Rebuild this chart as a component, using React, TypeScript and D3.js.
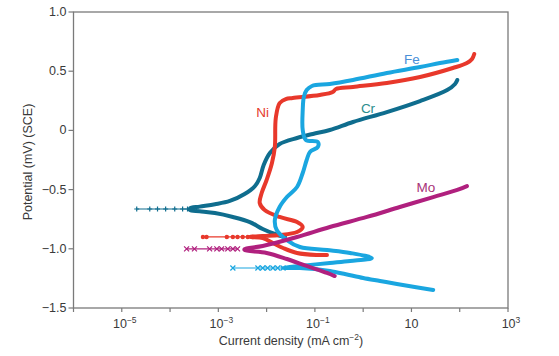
import React from "react";
import * as d3 from "d3";

type P = [number, number];

// [current density (mA cm^-2), potential (V)]
const feThick: P[] = [
  [28.2, -1.348], [11.7, -1.323], [5.0, -1.297], [2.24, -1.272], [1.0, -1.247],
  [0.417, -1.213], [0.204, -1.188], [0.1, -1.171], [0.049, -1.162], [0.0219, -1.162],
  [0.049, -1.145], [0.204, -1.12], [0.537, -1.103], [1.51, -1.078], [0.537, -1.035],
  [0.178, -1.01], [0.049, -0.985], [0.0263, -0.926], [0.0162, -0.841], [0.0148, -0.757],
  [0.0186, -0.647], [0.0263, -0.563], [0.0427, -0.478], [0.056, -0.36], [0.0676, -0.25],
  [0.079, -0.182], [0.115, -0.14], [0.115, -0.098], [0.065, -0.081], [0.056, 0.003],
  [0.056, 0.172], [0.059, 0.282], [0.0676, 0.341], [0.087, 0.375], [0.204, 0.392],
  [0.617, 0.426], [3.09, 0.485], [15.1, 0.535], [39, 0.569], [89, 0.595],
];
const feThin: P[] = [
  [2.0e-3, -1.162], [6.6e-3, -1.162], [8.3e-3, -1.162], [1.05e-2, -1.162],
  [1.35e-2, -1.162], [1.7e-2, -1.162], [2.19e-2, -1.162],
];

const niThick: P[] = [
  [0.178, -1.052], [0.11, -1.052], [0.0427, -1.035], [0.0219, -0.993], [0.0135, -0.951],
  [8.3e-3, -0.909], [4.5e-3, -0.9], [8.3e-3, -0.892], [0.0186, -0.884], [0.0427, -0.858],
  [0.056, -0.816], [0.0427, -0.774], [0.0186, -0.731], [9.1e-3, -0.672], [7.2e-3, -0.613],
  [7.9e-3, -0.529], [0.01, -0.419], [0.0129, -0.275], [0.0148, -0.14], [0.0155, 0.105],
  [0.0186, 0.231], [0.025, 0.265], [0.0347, 0.274], [0.126, 0.299], [0.234, 0.324],
  [0.273, 0.35], [0.617, 0.367], [3.09, 0.4], [15.1, 0.451], [72, 0.527], [141, 0.569],
  [180, 0.603], [200, 0.645],
];
const niThin: P[] = [
  [4.8e-4, -0.9], [5.7e-4, -0.9], [1.5e-3, -0.9], [2.0e-3, -0.9], [2.5e-3, -0.9],
  [3.2e-3, -0.9], [4.07e-3, -0.9], [5.2e-3, -0.9],
];

const crThick: P[] = [
  [0.024, -0.9], [0.0148, -0.875], [8.3e-3, -0.833], [4.5e-3, -0.774], [2.0e-3, -0.731],
  [8.5e-4, -0.698], [4.1e-4, -0.683], [2.6e-4, -0.674], [2.6e-4, -0.658], [4.1e-4, -0.644],
  [8.5e-4, -0.624], [1.73e-3, -0.596], [3.5e-3, -0.537], [5.75e-3, -0.47], [7.2e-3, -0.402],
  [8.7e-3, -0.292], [0.0117, -0.191], [0.0186, -0.115], [0.0427, -0.064], [0.091, -0.03],
  [0.204, 0.003], [0.617, 0.071], [3.09, 0.155], [15.1, 0.248], [55, 0.341], [80, 0.392],
  [89, 0.426],
];
const crThin: P[] = [
  [2.04e-5, -0.664], [3.8e-5, -0.664], [5.5e-5, -0.664], [8.1e-5, -0.664], [1.25e-4, -0.664],
  [1.82e-4, -0.664], [2.3e-4, -0.664], [2.95e-4, -0.664], [3.56e-4, -0.664],
];

const moThick: P[] = [
  [0.257, -1.23], [0.178, -1.204], [0.0676, -1.145], [0.0263, -1.086], [0.01, -1.035],
  [3.5e-3, -1.01], [3.5e-3, -1.002], [8.3e-3, -0.976], [0.0427, -0.9], [0.204, -0.816],
  [1.2, -0.731], [5.75, -0.647], [28.2, -0.563], [89, -0.503], [141, -0.47],
];
const moThin: P[] = [
  [2.2e-4, -1.0], [3.2e-4, -1.0], [6.6e-4, -1.0], [9.3e-4, -1.0], [1.17e-3, -1.0],
  [1.57e-3, -1.0], [2.0e-3, -1.0], [2.5e-3, -1.0],
];

const seriesNames = ["Cr", "Ni", "Fe", "Mo"];
const lineColors = ["#0f6d8e", "#e8382b", "#1aa6e0", "#b0207e"];
const labelColors = ["#2a8d8d", "#e63b2e", "#4a8fd8", "#a83278"];
const markerKinds = ["plus", "dot", "cross", "cross"];
const labelAnchors: P[] = [[1.26, 0.185], [8.3e-3, 0.155], [10.2, 0.6], [20, -0.486]];

const xTickValues = [1e-6, 1e-5, 1e-4, 1e-3, 1e-2, 1e-1, 1, 10, 100, 1000];
const xTickLabels: { v: number; base: string; exp: string }[] = [
  { v: 1e-5, base: "10", exp: "\u22125" },
  { v: 1e-3, base: "10", exp: "\u22123" },
  { v: 1e-1, base: "10", exp: "\u22121" },
  { v: 10, base: "10", exp: "" },
  { v: 1000, base: "10", exp: "3" },
];
const yTickValues = [1.0, 0.5, 0, -0.5, -1.0, -1.5];
const yTickLabels = ["1.0", "0.5", "0", "\u22120.5", "\u22121.0", "\u22121.5"];

export default function App() {
  const W = 559, H = 356;
  const left = 73.5, right = 508, top = 12, bottom = 308;
  const x = d3.scaleLog().domain([1e-6, 1e3]).range([left, right]);
  const y = d3.scaleLinear().domain([-1.5, 1]).range([bottom, top]);
  const line = d3
    .line<P>()
    .x((d) => x(d[0]))
    .y((d) => y(d[1]))
    .curve(d3.curveCatmullRom.alpha(0.5));
  const straight = d3.line<P>().x((d) => x(d[0])).y((d) => y(d[1]));

  const thick = [crThick, niThick, feThick, moThick];
  const thin = [crThin, niThin, feThin, moThin];
  const font = "'Liberation Sans', Arial, Helvetica, sans-serif";
  const textColor = "#3a3a3a";
  const axisColor = "#7a7a7a";

  const marker = (kind: string, px: number, py: number, color: string, key: string) => {
    const s = 2.5;
    if (kind === "dot") return <circle key={key} cx={px} cy={py} r={2.2} fill={color} />;
    if (kind === "plus")
      return (
        <path key={key} d={`M${px - s},${py}H${px + s}M${px},${py - s}V${py + s}`} stroke={color} strokeWidth={1.2} />
      );
    return (
      <path
        key={key}
        d={`M${px - s},${py - s}L${px + s},${py + s}M${px - s},${py + s}L${px + s},${py - s}`}
        stroke={color}
        strokeWidth={1.2}
      />
    );
  };

  return (
    <svg
      width={W}
      height={H}
      style={{ position: "absolute", left: 0, top: 0, background: "#fff" }}
      fontFamily={font}
    >
      <rect x={0} y={0} width={W} height={H} fill="#fff" />
      {seriesNames.map((name, i) => (
        <g key={name}>
          <path d={straight(thin[i]) || ""} fill="none" stroke={lineColors[i]} strokeWidth={1.2} />
          {thin[i].map((d, j) => marker(markerKinds[i], x(d[0]), y(d[1]), lineColors[i], `${name}-m${j}`))}
          <path
            d={line(thick[i]) || ""}
            fill="none"
            stroke={lineColors[i]}
            strokeWidth={4}
            strokeLinecap="round"
            strokeLinejoin="round"
          />
        </g>
      ))}
      {seriesNames.map((name, i) => (
        <text
          key={`lab-${name}`}
          x={x(labelAnchors[i][0])}
          y={y(labelAnchors[i][1])}
          textAnchor="middle"
          dominantBaseline="central"
          fontSize={13.5}
          fill={labelColors[i]}
        >
          {name}
        </text>
      ))}
      <rect x={left} y={top} width={right - left} height={bottom - top} fill="none" stroke={axisColor} strokeWidth={1.3} />
      {yTickValues.map((v, i) => (
        <g key={`yt${i}`}>
          <line x1={left - 5} x2={left} y1={y(v)} y2={y(v)} stroke={axisColor} strokeWidth={1.2} />
          <text x={left - 7} y={y(v)} textAnchor="end" dominantBaseline="central" fontSize={12.5} fill={textColor}>
            {yTickLabels[i]}
          </text>
        </g>
      ))}
      {xTickValues.map((v, i) => (
        <line key={`xt${i}`} x1={x(v)} x2={x(v)} y1={bottom} y2={bottom + 4} stroke={axisColor} strokeWidth={1.2} />
      ))}
      {xTickLabels.map((t, i) => (
        <text key={`xl${i}`} x={x(t.v) + (t.exp ? 3 : 0)} y={328} textAnchor="middle" fontSize={12.5} fill={textColor}>
          {t.base}
          {t.exp && (
            <tspan dy={-5} fontSize={8.5}>
              {t.exp}
            </tspan>
          )}
        </text>
      ))}
      <text x={291} y={345} textAnchor="middle" fontSize={12.5} fill={textColor}>
        Current density (mA cm
        <tspan dy={-5} fontSize={8.5}>
          {"\u22122"}
        </tspan>
        <tspan dy={5}>)</tspan>
      </text>
      <text transform="translate(32,162) rotate(-90)" textAnchor="middle" fontSize={12.5} fill={textColor}>
        Potential (mV) (SCE)
      </text>
    </svg>
  );
}
